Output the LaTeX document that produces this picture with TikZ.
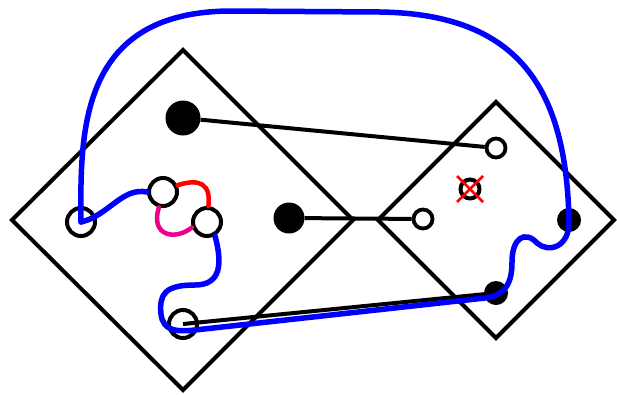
\documentclass[tikz,border=0pt]{standalone}
\begin{document}
\begin{tikzpicture}[x=1pt,y=-1pt,
  diam/.style={draw=black,line width=4pt},
  conn/.style={draw=black,line width=4pt},
  opencirc/.style={circle,draw=black,fill=white,line width=4pt,inner sep=0pt,minimum size=#1},
  opencirc/.default=28pt,
  dotcirc/.style={circle,fill=black,inner sep=0pt,minimum size=#1},
  dotcirc/.default=24pt,
  wire/.style={draw=#1,line width=5.5pt,line cap=round},
  jumper/.style={draw=#1,line width=4.5pt,line cap=round}]
\useasboundingbox (0,0) rectangle (617,394);
% diamonds
\draw[diam] (183,50) -- (353,220) -- (183,390) -- (12,220) -- cycle;
\draw[diam] (496,102) -- (614,220) -- (496,338) -- (378,220) -- cycle;
% filled nodes
\node[dotcirc=35pt] (f1) at (183,118) {};
\node[dotcirc=31pt] (f2) at (289,218) {};
\node[dotcirc] (f3) at (569,220) {};
\node[dotcirc] (f4) at (496,293) {};
% open nodes in small diamond
\node[opencirc=19pt,line width=3.8pt] (o1) at (496,148) {};
\node[opencirc=19pt,line width=3.8pt] (o2) at (423,219) {};
% open nodes in big diamond
\node[opencirc] (c0) at (81,222) {};
\node[opencirc] (c1) at (163,192) {};
\node[opencirc] (c2) at (207,222) {};
\node[opencirc] (c3) at (183,324) {};
% black connectors
\draw[conn] (f1) -- (o1);
\draw[conn] (f2) -- (o2);
\draw[conn] (c3.center) -- (f4.center);
% crossed node
\node[opencirc=19pt,line width=4pt] (x1) at (470,189) {};
\draw[red,line width=2.8pt] (x1.center) ++(-13,-13) -- ++(26,26);
\draw[red,line width=2.8pt] (x1.center) ++(13,-13) -- ++(-26,26);
% wires
\draw[wire=blue] (c0.center) .. controls (80,130) and (80,12) .. (230,11) -- (380,12) .. controls (520,14) and (566,90) .. (f3.center);
\draw[wire=blue] (c0.center) .. controls (108,216) and (122,187) .. (c1.180);
\draw[jumper=red] (c1.25) .. controls (200,178) and (211,184) .. (c2.85);
\draw[jumper=magenta] (c1.-105) .. controls (150,236) and (175,241) .. (c2.200);
\draw[wire=blue] (c2.-60) .. controls (222,262) and (222,285) .. (195,285) .. controls (165,285) and (159,294) .. (161,314) .. controls (163,331) and (176,332) .. (195,330) -- (485,298) .. controls (505,295) and (512,284) .. (512,262) .. controls (512,238) and (525,230) .. (537,243) .. controls (548,253) and (570,248) .. (f3.center);
\end{tikzpicture}
\end{document}
